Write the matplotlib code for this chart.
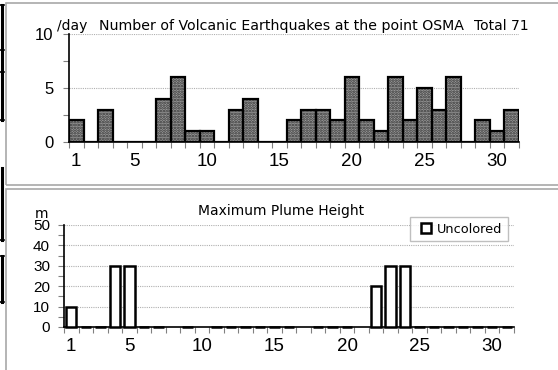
import matplotlib.pyplot as plt
import numpy as np
from matplotlib.lines import Line2D
from matplotlib.patches import Rectangle

# data
days = list(range(1, 32))
quakes = [2, 0, 3, 0, 0, 0, 4, 6, 1, 1, 0, 3, 4, 0, 0, 2,
          3, 3, 2, 6, 2, 1, 6, 2, 5, 3, 6, 0, 2, 1, 3]
plume = [10, 0, 0, 30, 30, 0, 0, None, 0, None, 0, 0, 0, 0, 0, 0,
         None, 0, 0, 0, None, 20, 30, 30, 0, 0, 0, 0, 0, 0, 0]
label_days = [1, 5, 10, 15, 20, 25, 30]
quake_title = "Number of Volcanic Earthquakes at the point OSMA"
total_text = "Total %d" % sum(quakes)
plume_title = "Maximum Plume Height"
legend_label = "Uncolored"

W, H = 558, 370
plt.rcParams["font.family"] = ["Liberation Sans", "DejaVu Sans"]
plt.rcParams["hatch.linewidth"] = 1.3
TITLE_FONT = "DejaVu Sans"


def rect(l, t, r, b):
    return [l / W, 1 - b / H, (r - l) / W, (b - t) / H]


def style_axes(ax, ymax, ymajor, yminor, ysize, ypad):
    ax.set_xlim(0.5, 31.5)
    ax.set_ylim(0, ymax)
    for s in ("top", "right"):
        ax.spines[s].set_visible(False)
    ax.spines["left"].set_linewidth(1.2)
    ax.spines["bottom"].set_linewidth(1.2)
    # tick marks on category boundaries, labels at category centres
    ax.set_xticks(np.arange(0.5, 32, 1.0), labels=[])
    ax.set_xticks(label_days, labels=[str(d) for d in label_days], minor=True)
    ax.tick_params(axis="x", which="major", direction="out", length=4,
                   color="#808080", width=0.8)
    ax.tick_params(axis="x", which="minor", length=0, pad=8, labelsize=13.5)
    ax.set_yticks(np.arange(0, ymax + 0.1, ymajor))
    ax.set_yticks(np.arange(0, ymax + 0.1, yminor), minor=True)
    ax.tick_params(axis="y", which="both", direction="out", length=4,
                   color="#808080", width=0.8, labelsize=ysize, pad=ypad)
    ax.grid(axis="y", which="major", color="#b0b0b0", linestyle=(0, (1, 1)),
            linewidth=0.8)
    ax.set_axisbelow(True)
    ax.patch.set_alpha(0)


fig = plt.figure(figsize=(W / 100, H / 100), dpi=100)

# chart frames
fig.add_artist(Rectangle((6 / W, 1 - 185 / H), 1.2, 182 / H, transform=fig.transFigure,
                         fill=False, ec="#a8a8a8", lw=1.2))
fig.add_artist(Rectangle((6 / W, -0.2), 1.2, 0.2 + 1 - 189 / H, transform=fig.transFigure,
                         fill=False, ec="#a8a8a8", lw=1.2))

# stray cell borders on the left edge
for y0, y1, stubs in [(5, 120, [5, 50, 72, 120]), (168, 240, [240]), (256, 302, [256, 302])]:
    fig.add_artist(Line2D([1.5 / W, 1.5 / W], [1 - y0 / H, 1 - y1 / H],
                          transform=fig.transFigure, color="black", lw=2.2))
    for ys in stubs:
        fig.add_artist(Line2D([0, 4 / W], [1 - ys / H, 1 - ys / H],
                              transform=fig.transFigure, color="black", lw=1.2))

# top: earthquakes
ax1 = fig.add_axes(rect(69, 34, 518.5, 142))
style_axes(ax1, 10, 5, 2.5, 12, 7)
ax1.bar(days, quakes, width=1.0, color="#9c9c9c", edgecolor="#333333",
        hatch="......", linewidth=0, zorder=3)
ax1.bar(days, quakes, width=1.0, fill=False, edgecolor="black", linewidth=1.6,
        zorder=3)
fig.text(57 / W, 1 - 26 / H, "/day", fontsize=10, va="center", ha="left",
         family=TITLE_FONT)
fig.text(99 / W, 1 - 26 / H, quake_title, fontsize=10.2, va="center", ha="left",
         family=TITLE_FONT)
fig.text(529 / W, 1 - 26 / H, total_text, fontsize=10, va="center", ha="right",
         family=TITLE_FONT)

# bottom: plume height
ax2 = fig.add_axes(rect(64, 225, 514, 327))
style_axes(ax2, 50, 10, 5, 11, 6)
plume_vals = np.array([np.nan if v is None else v for v in plume], dtype=float)
ax2.bar(days, plume_vals, width=0.72, color="white", edgecolor="black",
        linewidth=1.8, zorder=3, clip_on=False)
fig.text(281 / W, 1 - 211 / H, plume_title, fontsize=10, va="center", ha="center",
         family=TITLE_FONT)
fig.text(42 / W, 1 - 214 / H, "m", fontsize=10, va="center", ha="center",
         family=TITLE_FONT)
key = Line2D([], [], marker="s", markersize=6.5, markerfacecolor="white",
             markeredgecolor="black", markeredgewidth=1.8, linestyle="none")
leg = ax2.legend([key], [legend_label], loc="upper left",
                 bbox_to_anchor=((410 - 64) / 450, 1.08),
                 frameon=True, fancybox=False, prop={"family": TITLE_FONT, "size": 9.3},
                 handlelength=1.6, handletextpad=0.0,
                 borderpad=0.45, borderaxespad=0)
leg.get_frame().set_edgecolor("#b0b0b0")
leg.get_frame().set_linewidth(1.0)

fig.savefig("out.png", dpi=100)
